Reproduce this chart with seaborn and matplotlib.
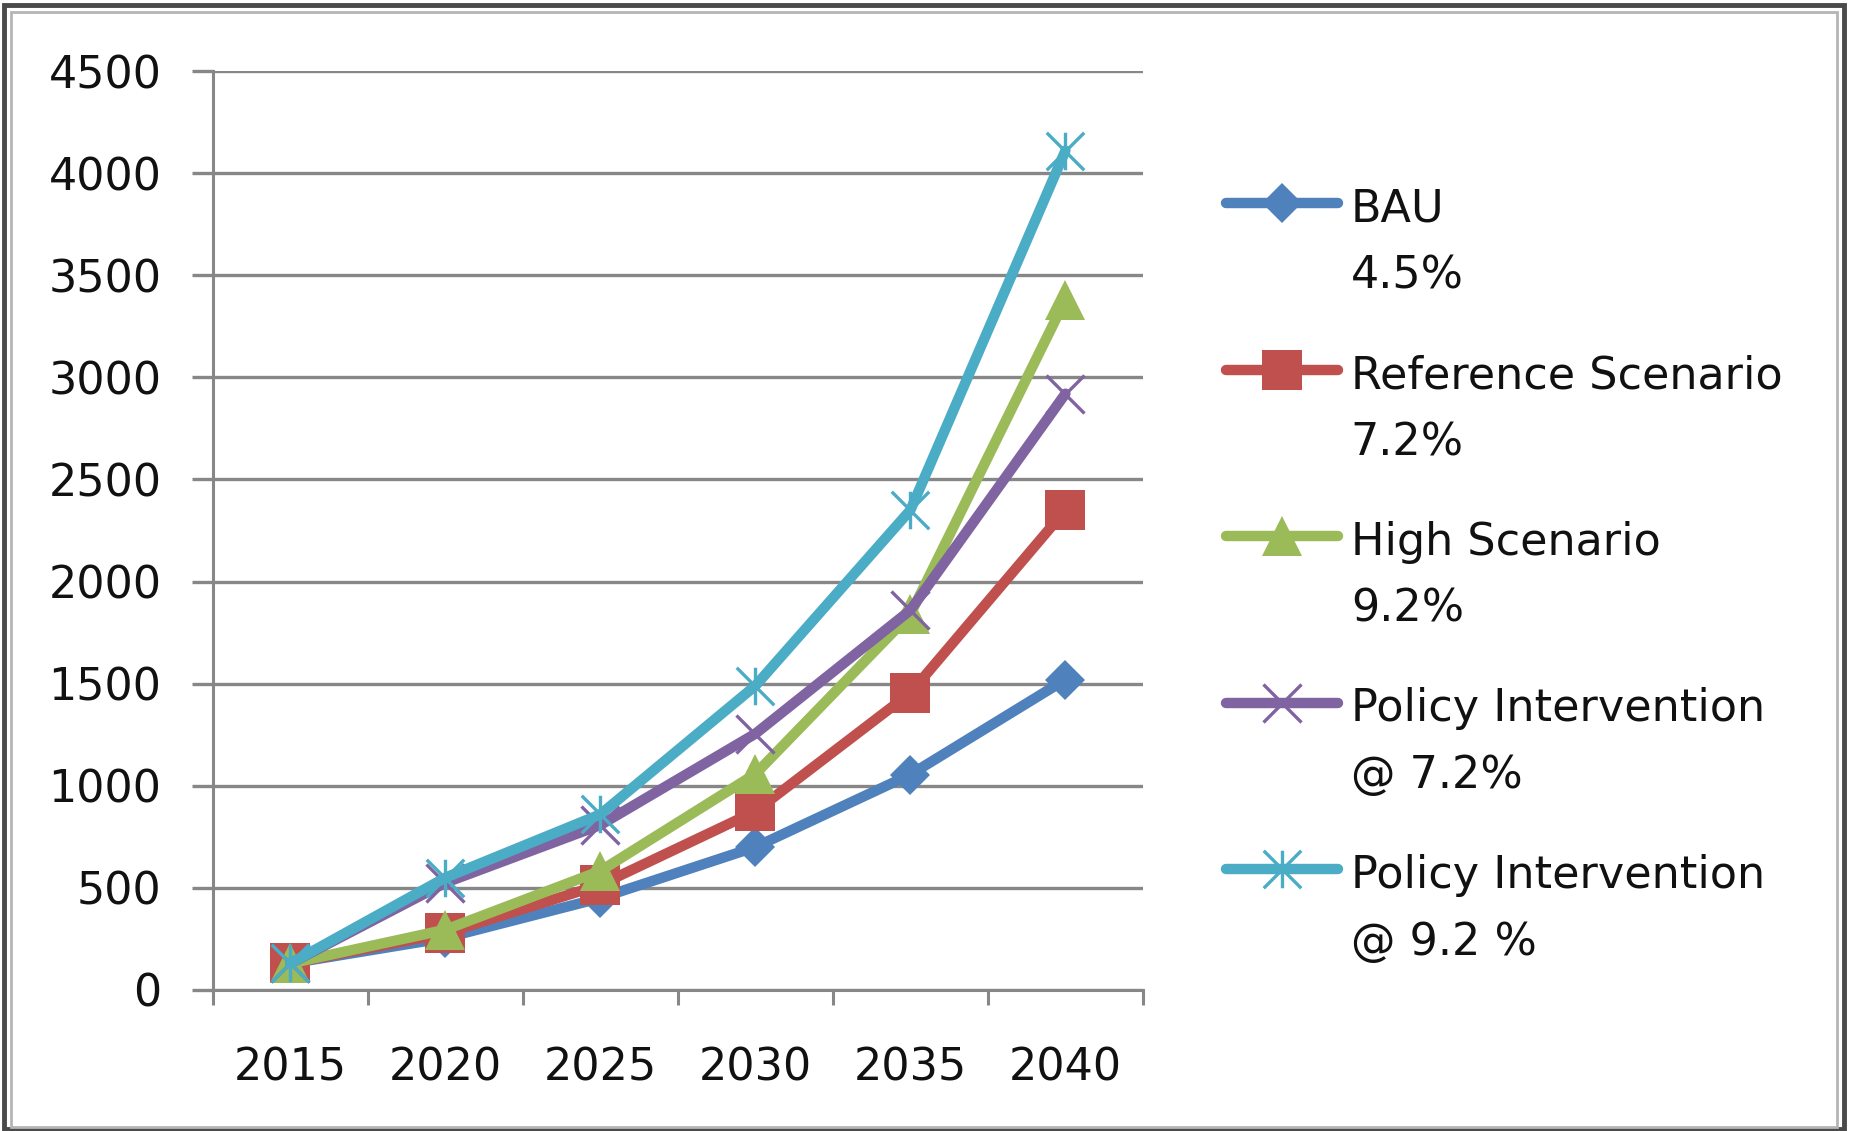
import numpy as np
import pandas as pd
import seaborn as sns
import matplotlib
matplotlib.use("Agg")
import matplotlib.pyplot as plt
from matplotlib.path import Path
from matplotlib.patches import Rectangle
from matplotlib.ticker import FixedLocator
from matplotlib.offsetbox import HPacker

# ---- data -------------------------------------------------------------
years = ["2015", "2020", "2025", "2030", "2035", "2040"]
bau = [130, 255, 450, 700, 1055, 1520]
reference = [130, 278, 515, 875, 1455, 2350]
high = [130, 295, 583, 1058, 1840, 3380]
policy_72 = [130, 525, 808, 1255, 1860, 2920]
policy_92 = [130, 550, 860, 1490, 2350, 4110]

series_names = [
    "BAU\n4.5%",
    "Reference Scenario\n7.2%",
    "High Scenario\n9.2%",
    "Policy Intervention\n@ 7.2%",
    "Policy Intervention\n@ 9.2 %",
]
series_values = [bau, reference, high, policy_72, policy_92]
y_ticks = [0, 500, 1000, 1500, 2000, 2500, 3000, 3500, 4000, 4500]

df = pd.DataFrame(
    [(name, yr, v) for name, vals in zip(series_names, series_values)
     for yr, v in zip(years, vals)],
    columns=["series", "year", "value"],
)

# ---- styling ----------------------------------------------------------
sns.set_style("white")
plt.rcParams["font.family"] = ["DejaVu Sans"]
FS = 32
GRID = "#878787"
TEXT = "#111111"

# asterisk marker: an X crossed by a vertical stroke
star = Path(
    [(-1, -1), (1, 1), (-1, 1), (1, -1), (0, -1), (0, 1)],
    [Path.MOVETO, Path.LINETO, Path.MOVETO, Path.LINETO, Path.MOVETO, Path.LINETO],
)

styles = {
    series_names[0]: dict(color="#4F81BD", marker="D", markersize=20, mew=0),
    series_names[1]: dict(color="#C0504D", marker="s", markersize=29, mew=0),
    series_names[2]: dict(color="#9BBB59", marker="^", markersize=29, mew=0),
    series_names[3]: dict(color="#8064A2", marker="x", markersize=27, mew=2.4),
    series_names[4]: dict(color="#4BACC6", marker=star, markersize=27, mew=2.4),
}

fig = plt.figure(figsize=(18.53, 11.31), dpi=100)
ax = fig.add_axes([0.1149, 0.1247, 0.5019, 0.8125])

for name in series_names:
    st = styles[name]
    sns.lineplot(
        data=df[df["series"] == name], x="year", y="value", ax=ax,
        color=st["color"], marker=st["marker"], markersize=st["markersize"],
        markeredgewidth=st["mew"], markeredgecolor=st["color"],
        markerfacecolor=st["color"], linewidth=7.5, label=name,
        solid_joinstyle="round", solid_capstyle="round",
    )

ax.set_xlim(-0.5, len(years) - 0.5)
ax.set_ylim(0, 4500)
ax.set_yticks(y_ticks)
ax.set_yticklabels([str(t) for t in y_ticks])
ax.set_xlabel("")
ax.set_ylabel("")

ax.yaxis.grid(True, color=GRID, linewidth=2.4)
ax.xaxis.grid(False)
ax.set_axisbelow(True)
for side in ("top", "right"):
    ax.spines[side].set_visible(False)
for side in ("left", "bottom"):
    ax.spines[side].set_color(GRID)
    ax.spines[side].set_linewidth(2.2)

ax.tick_params(axis="y", which="major", length=15, width=2.4, color=GRID,
               pad=22, labelsize=FS, labelcolor=TEXT, left=True)
ax.tick_params(axis="x", which="major", length=0, pad=41,
               labelsize=FS, labelcolor=TEXT)
ax.xaxis.set_minor_locator(FixedLocator(np.arange(-0.5, len(years), 1.0)))
ax.tick_params(axis="x", which="minor", length=11, width=2.2, color=GRID,
               bottom=True, direction="out")

leg = ax.legend(
    loc="upper left", bbox_to_anchor=(0.6616, 0.8342),
    bbox_transform=fig.transFigure, frameon=False, fontsize=FS,
    handlelength=2.51, handletextpad=0.3, labelspacing=1.268,
    borderpad=0, borderaxespad=0,
)
for t in leg.get_texts():
    t.set_linespacing(1.71)
    t.set_color(TEXT)
for hp in leg.findobj(HPacker):
    hp.align = "top"

# double frame around the chart
fig.add_artist(Rectangle((4 / 1853, 1 - 1129 / 1131), 1840 / 1853, 1124 / 1131,
                         transform=fig.transFigure, fill=False,
                         edgecolor="#4a4a4a", linewidth=3.5))
fig.add_artist(Rectangle((11 / 1853, 1 - 1127 / 1131), 1826 / 1853, 1115 / 1131,
                         transform=fig.transFigure, fill=False,
                         edgecolor="#b5b5b5", linewidth=2))

fig.savefig("out.png", dpi=100)
